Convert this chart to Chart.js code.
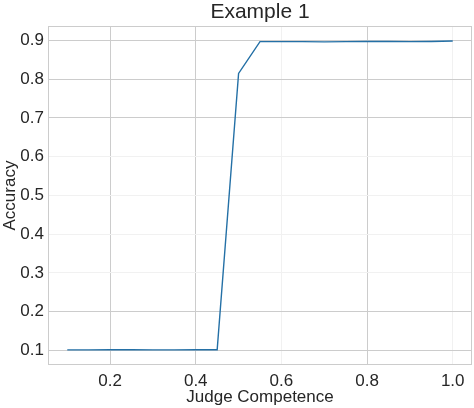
<!DOCTYPE html>
<html>
<head>
<meta charset="utf-8">
<script src="https://cdn.jsdelivr.net/npm/chart.js@4"></script>
<style>
html,body{margin:0;padding:0;background:#fff;}
#wrap{width:474px;height:408px;}
</style>
</head>
<body>
<div id="wrap"><canvas id="c" width="474" height="408"></canvas></div>
<script>
const competence = [0.10,0.15,0.20,0.25,0.30,0.35,0.40,0.45,0.50,0.55,0.60,0.65,0.70,0.75,0.80,0.85,0.90,0.95,1.00];
const accuracy   = [0.101,0.101,0.1015,0.1015,0.101,0.101,0.1015,0.1015,0.815,0.897,0.897,0.897,0.8965,0.897,0.8975,0.8975,0.897,0.8975,0.8985];
const xTicks = [0.2,0.4,0.6,0.8,1.0];
const yTicks = [0.1,0.2,0.3,0.4,0.5,0.6,0.7,0.8,0.9];
const fadedX = [0.6,1.0];
const fadedY = [0.3,0.4,0.5,0.6];

const FONT = "'Liberation Sans', Arial, sans-serif";
const TXT = '#262626';

const boxPlugin = {
  id:'box',
  afterDatasetsDraw(chart){
    const a = chart.chartArea, ctx = chart.ctx;
    ctx.save();
    ctx.strokeStyle = '#cccccc';
    ctx.lineWidth = 1;
    ctx.strokeRect(Math.round(a.left)+0.5, Math.round(a.top)+0.5, Math.round(a.right-a.left)-1, Math.round(a.bottom-a.top)-1);
    ctx.restore();
  }
};

const near = (arr,v)=>arr.some(t=>Math.abs(t-v)<1e-6);

new Chart(document.getElementById('c'), {
  type:'line',
  data:{
    datasets:[{
      data: competence.map((x,i)=>({x:x,y:accuracy[i]})),
      borderColor:'#2470a6',
      borderWidth:1.4,
      pointRadius:0,
      tension:0,
      fill:false
    }]
  },
  options:{
    responsive:false,
    animation:false,
    devicePixelRatio:1,
    layout:{padding:{left:0,right:2,top:0,bottom:0}},
    plugins:{
      legend:{display:false},
      tooltip:{enabled:false},
      title:{
        display:true,
        text:'Example 1',
        fullSize:false,
        color:TXT,
        font:{family:FONT,size:21,weight:'normal',lineHeight:1.15},
        padding:{top:0,bottom:2}
      }
    },
    scales:{
      x:{
        type:'linear',
        min:0.055, max:1.045,
        afterBuildTicks(axis){ axis.ticks = xTicks.map(v=>({value:v})); },
        afterFit(axis){ axis.height = 43; },
        grid:{
          color:(ctx)=> (ctx.tick && near(fadedX, ctx.tick.value)) ? '#f1f1f1' : '#cccccc',
          lineWidth:1, drawTicks:false
        },
        border:{display:false},
        ticks:{
          color:TXT, padding:6,
          font:{family:FONT,size:17},
          callback:(v)=>Number(v).toFixed(1),
          maxRotation:0
        },
        title:{
          display:true, text:'Judge Competence', color:TXT,
          font:{family:FONT,size:17},
          padding:{top:0,bottom:0}
        }
      },
      y:{
        type:'linear',
        min:0.062, max:0.937,
        afterBuildTicks(axis){ axis.ticks = yTicks.map(v=>({value:v})); },
        afterFit(axis){ axis.width = 48; },
        grid:{
          color:(ctx)=> (ctx.tick && near(fadedY, ctx.tick.value)) ? '#f1f1f1' : '#cccccc',
          lineWidth:1, drawTicks:false
        },
        border:{display:false},
        ticks:{
          color:TXT, padding:4,
          font:{family:FONT,size:17},
          callback:(v)=>Number(v).toFixed(1)
        },
        title:{
          display:true, text:'Accuracy', color:TXT,
          font:{family:FONT,size:17},
          padding:{top:0,bottom:0}
        }
      }
    }
  },
  plugins:[boxPlugin]
});
</script>
</body>
</html>
